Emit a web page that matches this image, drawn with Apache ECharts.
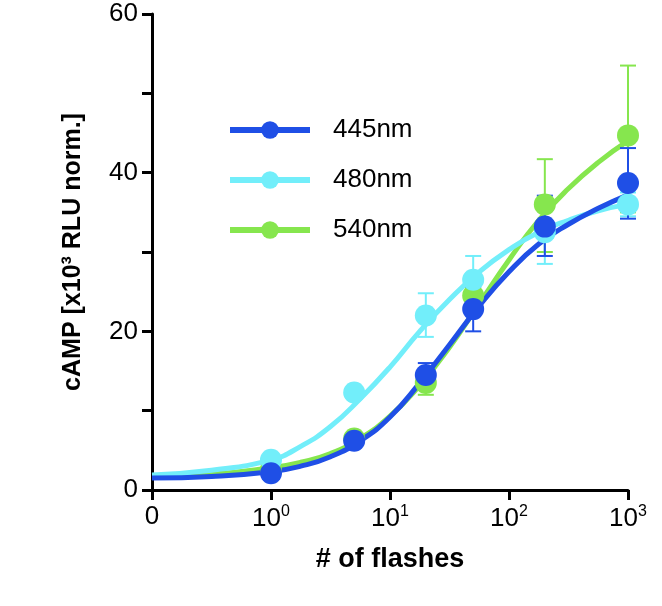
<!DOCTYPE html>
<html><head><meta charset="utf-8">
<script src="https://cdn.jsdelivr.net/npm/echarts@6/dist/echarts.min.js"></script>
<style>html,body{margin:0;padding:0;background:#fff}#c{width:662px;height:606px}</style>
</head><body><div id="c"></div>
<script>
const flashes = [1, 5, 20, 50, 200, 1000];
const names = ['445nm', '480nm', '540nm'];
const colors = ['#1f4fe6', '#72eefa', '#86e64e'];
const mean445 = [2.1, 6.2, 14.5, 22.8, 33.2, 38.7];
const lo445 = [2.1, 6.2, 13.0, 20.0, 29.5, 34.2];
const hi445 = [2.1, 6.2, 16.0, 25.6, 37.1, 43.1];
const mean480 = [3.8, 12.3, 22.0, 26.5, 32.5, 36.0];
const lo480 = [3.8, 12.3, 19.3, 23.5, 28.5, 34.5];
const hi480 = [3.8, 12.3, 24.8, 29.5, 36.5, 37.5];
const mean540 = [2.6, 6.5, 13.5, 24.5, 36.0, 44.7];
const lo540 = [2.6, 6.5, 12.0, 22.5, 30.0, 35.0];
const hi540 = [2.6, 6.5, 15.0, 26.5, 41.7, 53.5];
const fitLogX = [-1, -0.5, 0, 0.25, 0.5, 0.75, 1, 1.25, 1.5, 1.75, 2, 2.25, 2.5, 2.75, 3];
const fit445 = [1.5, 1.7, 2.3, 3.0, 4.2, 6.2, 9.2, 13.5, 18.3, 23.2, 27.5, 31.0, 33.5, 35.5, 37.2];
const fit480 = [1.9, 2.5, 3.8, 5.5, 8.0, 11.5, 15.5, 20.0, 24.0, 27.5, 30.3, 32.5, 34.0, 35.2, 36.0];
const fit540 = [1.8, 2.0, 2.8, 3.5, 4.6, 6.5, 9.3, 13.2, 18.0, 23.5, 29.0, 34.0, 38.0, 41.3, 44.0];
const xTicks = {'-1': '0', '0': '10{s|0}', '1': '10{s|1}', '2': '10{s|2}', '3': '10{s|3}'};

const means = [mean445, mean480, mean540], los = [lo445, lo480, lo540], his = [hi445, hi480, hi540];
const fits = [fit445, fit480, fit540];
const lx = flashes.map(f => Math.log10(f));
const series = [];
[2, 1, 0].forEach(i => {
  series.push({name: names[i], type: 'line', data: fitLogX.map((x, k) => [x, fits[i][k]]),
    smooth: true, symbol: 'circle', symbolSize: 20, showSymbol: false,
    lineStyle: {color: colors[i], width: 5}, itemStyle: {color: colors[i]}, z: 2});
});
[2, 1, 0].forEach(i => {
  series.push({type: 'custom', z: 3, data: lx.map((x, k) => [x, los[i][k], his[i][k]]),
    renderItem: (p, api) => {
      const a = api.coord([api.value(0), api.value(1)]), b = api.coord([api.value(0), api.value(2)]);
      const st = {stroke: colors[i], lineWidth: 2};
      return {type: 'group', children: [
        {type: 'line', shape: {x1: a[0], y1: a[1], x2: b[0], y2: b[1]}, style: st},
        {type: 'line', shape: {x1: a[0]-8, y1: a[1], x2: a[0]+8, y2: a[1]}, style: st},
        {type: 'line', shape: {x1: b[0]-8, y1: b[1], x2: b[0]+8, y2: b[1]}, style: st}]};
    }});
});
[2, 1, 0].forEach(i => {
  series.push({type: 'scatter', z: 4, data: lx.map((x, k) => [x, means[i][k]]),
    symbolSize: 22, itemStyle: {color: colors[i], opacity: 1}});
});
const chart = echarts.init(document.getElementById('c'));
chart.setOption({
  animation: false,
  textStyle: {fontFamily: 'Liberation Sans, Arial'},
  grid: {left: 152, right: 34, top: 14, bottom: 116},
  legend: {data: names, orient: 'vertical', left: 222, top: 112, itemWidth: 80, itemHeight: 22,
    itemGap: 24, lineStyle: {width: 6}, textStyle: {fontSize: 26, color: '#000', padding: [0, 0, 0, 18]}},
  xAxis: {type: 'value', min: -1, max: 3, interval: 1,
    axisLine: {onZero: false, lineStyle: {color: '#000', width: 3}}, axisTick: {length: 10, lineStyle: {width: 3, color: '#000'}},
    splitLine: {show: false},
    axisLabel: {fontSize: 26, color: '#000', margin: 14, formatter: v => xTicks[String(v)],
      rich: {s: {fontSize: 16, verticalAlign: 'top', padding: [0, 0, 14, 0], color: '#000'}}},
    name: '# of flashes', nameLocation: 'middle', nameGap: 56,
    nameTextStyle: {fontSize: 27, fontWeight: 'bold', color: '#000'}},
  yAxis: {type: 'value', min: 0, max: 60, interval: 10,
    axisLine: {show: true, onZero: false, lineStyle: {color: '#000', width: 3}},
    axisTick: {show: true, length: 10, lineStyle: {width: 3, color: '#000'}}, splitLine: {show: false},
    axisLabel: {fontSize: 26, color: '#000', margin: 14, formatter: v => v % 20 === 0 ? String(v) : ''},
    name: 'cAMP [x10³ RLU norm.]', nameLocation: 'middle', nameGap: 66,
    nameTextStyle: {fontSize: 25, fontWeight: 'bold', color: '#000'}},
  series
});
</script></body></html>
